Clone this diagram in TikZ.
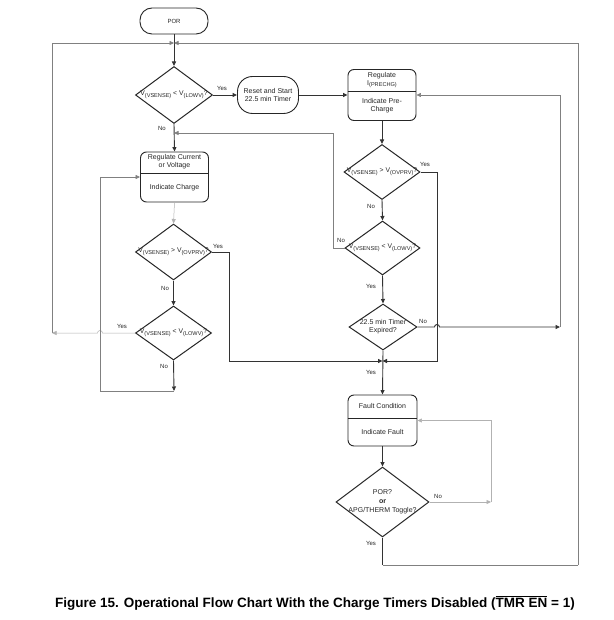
\documentclass[tikz,border=0pt]{standalone}
\usepackage{fontspec}
\setmainfont{Liberation Sans}
\usetikzlibrary{shapes.geometric,arrows.meta,calc}
\newcommand\dsubx[1]{\raisebox{-0.45ex}{\fontsize{5.6}{6}\selectfont #1}}
\begin{document}
\begin{tikzpicture}[x=1pt,y=-1pt,
  every node/.style={font=\fontsize{7}{8}\selectfont, text=black!85},
  arr/.style={-{Triangle[length=4.5pt,width=4pt]}},
  ln/.style={draw=black!80, line width=0.9pt},
  lg/.style={draw=black!50, line width=0.6pt},
  lgl/.style={draw=black!30, line width=0.5pt},
  twobox/.style={draw=black!85, line width=0.9pt, rounded corners=6pt, minimum width=68pt, minimum height=51pt, inner sep=0pt},
  dia/.style={diamond, draw=black!85, line width=1pt, inner sep=0pt},
  txt/.style={align=center, inner sep=0pt},
  dtx/.style={align=center, inner sep=0pt, font=\fontsize{6.8}{8}\selectfont},
  lbl/.style={font=\fontsize{6}{7}\selectfont, inner sep=0pt}]
\useasboundingbox[fill=white] (0,0) rectangle (613,620);

% ---- nodes ----
\node[draw=black!85, line width=0.9pt, rounded corners=12pt, minimum width=68pt, minimum height=26pt, inner sep=0pt, font=\fontsize{6}{7}\selectfont] (por) at (174,21) {POR};

\node[dia, minimum width=77pt, minimum height=57pt] (d1) at (174,95) {};
\node[dtx] (d1t) at (d1) {V\dsubx{(VSENSE)} < V\dsubx{(LOWV)}?};

\node[draw=black!85, line width=0.9pt, rounded corners=15pt, minimum width=61pt, minimum height=37pt, txt] (rst) at (268,95) {Reset and Start\\22.5 min Timer};

\node[twobox] (pre) at (382,95) {};
\draw[draw=black!85, line width=0.9pt] (pre.west |- 0,91) -- (pre.east |- 0,91);
\node[txt] (pret) at (382,80) {Regulate\\I\dsubx{(PRECHG)}};
\node[txt] (preb) at (382,106) {Indicate Pre-\\Charge};

\node[twobox, minimum height=50pt] (reg) at (174.5,177) {};
\draw[draw=black!85, line width=0.9pt] (reg.west |- 0,173) -- (reg.east |- 0,173);
\node[txt] (regt) at (174.5,162) {Regulate Current\\or Voltage};
\node[txt] (regb) at (174.5,188) {Indicate Charge};

\node[dia, minimum width=76pt, minimum height=56pt] (l2) at (173.5,252) {};
\node[dtx] (l2t) at (l2) {V\dsubx{(VSENSE)} > V\dsubx{(OVPRV)}?};

\node[dia, minimum width=76pt, minimum height=54pt] (l3) at (173.5,333) {};
\node[dtx] (l3t) at (l3) {V\dsubx{(VSENSE)} < V\dsubx{(LOWV)}?};

\node[dia, minimum width=76pt, minimum height=55pt] (r1) at (382,172) {};
\node[dtx] (r1t) at (r1) {V\dsubx{(VSENSE)} > V\dsubx{(OVPRV)}?};

\node[dia, minimum width=75pt, minimum height=54pt] (r2) at (382.5,248) {};
\node[dtx] (r2t) at (r2) {V\dsubx{(VSENSE)} < V\dsubx{(LOWV)}?};

\node[dia, minimum width=68pt, minimum height=46pt] (r3) at (383,327) {};
\node[txt] (r3t) at (r3) {22.5 min Timer\\Expired?};

\node[twobox, minimum width=69pt] (flt) at (382.5,420.5) {};
\draw[draw=black!85, line width=0.9pt] (flt.west |- 0,418) -- (flt.east |- 0,418);
\node[txt] (fltt) at (382.5,406) {Fault Condition};
\node[txt] (fltb) at (382.5,432) {Indicate Fault};

\node[dia, minimum width=93pt, minimum height=70pt] (f) at (382.5,502) {};
\node[txt, font=\fontsize{7}{9}\selectfont] (ft) at (f) {POR?\\\textbf{or}\\APG/THERM Toggle?};

% ---- junction coordinates ----
\coordinate (jtop) at (174,43);
\coordinate (jl) at (52,333);
\coordinate (jr) at (578,565);
\coordinate (fy) at (382.5,565);
\coordinate (j133) at (174,133);
\coordinate (r2n) at (333,248);
\coordinate (l2y) at (229,252);
\coordinate (jm) at (382.5,361);
\coordinate (r1y) at (437,172);
\coordinate (r3n) at (560,327);
\coordinate (l3b) at (174,391);
\coordinate (lp) at (100,391);
\coordinate (fn) at (491,502);

% ---- connectors ----
\draw[ln,arr] (por) -- (d1);
\draw[lg,arr] (jl) |- (jtop);
\draw[ln] (f.south) -- (fy);
\draw[lg] (fy) -- (jr);
\draw[lg,arr] (jr) |- (jtop);

\draw[ln,arr] (d1.east) -- (d1.east -| rst.west);
\draw[ln,arr] (rst.east) -- (rst.east -| pre.west);
\draw[ln,arr] (d1.south) -- (reg.north);
\draw[lg,arr] (r2.west) -- (r2n) |- (j133);

\draw[lgl,arr] (reg.south) -- (l2.north);
\draw[ln,arr] (l2.east) -- (l2y) |- (jm);
\draw[ln,arr] (l2.south) -- (l3.north);
\draw[lgl,arr] (l3.west) -- (102.5,333) arc (0:-180:2.5) -- (jl);
\draw[ln,arr] (l3.south) -- (l3b);
\draw[lg,arr] (l3b) -- (lp) |- (reg.west);

\draw[ln,arr] (pre.south) -- (r1.north);
\draw[ln,arr] (r1.east) -- (r1y) |- (jm);
\draw[ln,arr] (r1.south) -- (r2.north);
\draw[ln,arr] (r2.south) -- (r3.north);
\draw[ln,arr] (r3.east) -- (434.5,327) arc (180:360:2.5) -- (r3n);
\draw[lg,arr] (r3n) |- (pre.east);
\draw[ln,arr] (r3.south) -- (flt.north);
\draw[ln,arr] (flt.south) -- (f.north);
\draw[lgl,arr] (f.east) -- (fn);
\draw[lgl,arr] (fn) |- (flt.east);

% ---- labels ----
\node[lbl] (y1) at (222,88) {Yes};
\node[lbl] (n1) at (162,128) {No};
\node[lbl] (y2) at (218,246) {Yes};
\node[lbl] (n2) at (165,288) {No};
\node[lbl] (y3) at (122,326) {Yes};
\node[lbl] (n3) at (164,366) {No};
\node[lbl] (y4) at (425,164) {Yes};
\node[lbl] (n4) at (371,206) {No};
\node[lbl] (n5) at (341,240) {No};
\node[lbl] (y5) at (371,286) {Yes};
\node[lbl] (n6) at (423,321) {No};
\node[lbl] (y6) at (371,372) {Yes};
\node[lbl] (n7) at (438,496) {No};
\node[lbl] (y7) at (371,543) {Yes};

\node[font=\fontsize{13.5}{15}\selectfont\bfseries, text=black] (cap) at (315,603) {Figure 15. Operational Flow Chart With the Charge Timers Disabled ($\overline{\mbox{TMR EN}}$ = 1)};
\end{tikzpicture}
\end{document}
